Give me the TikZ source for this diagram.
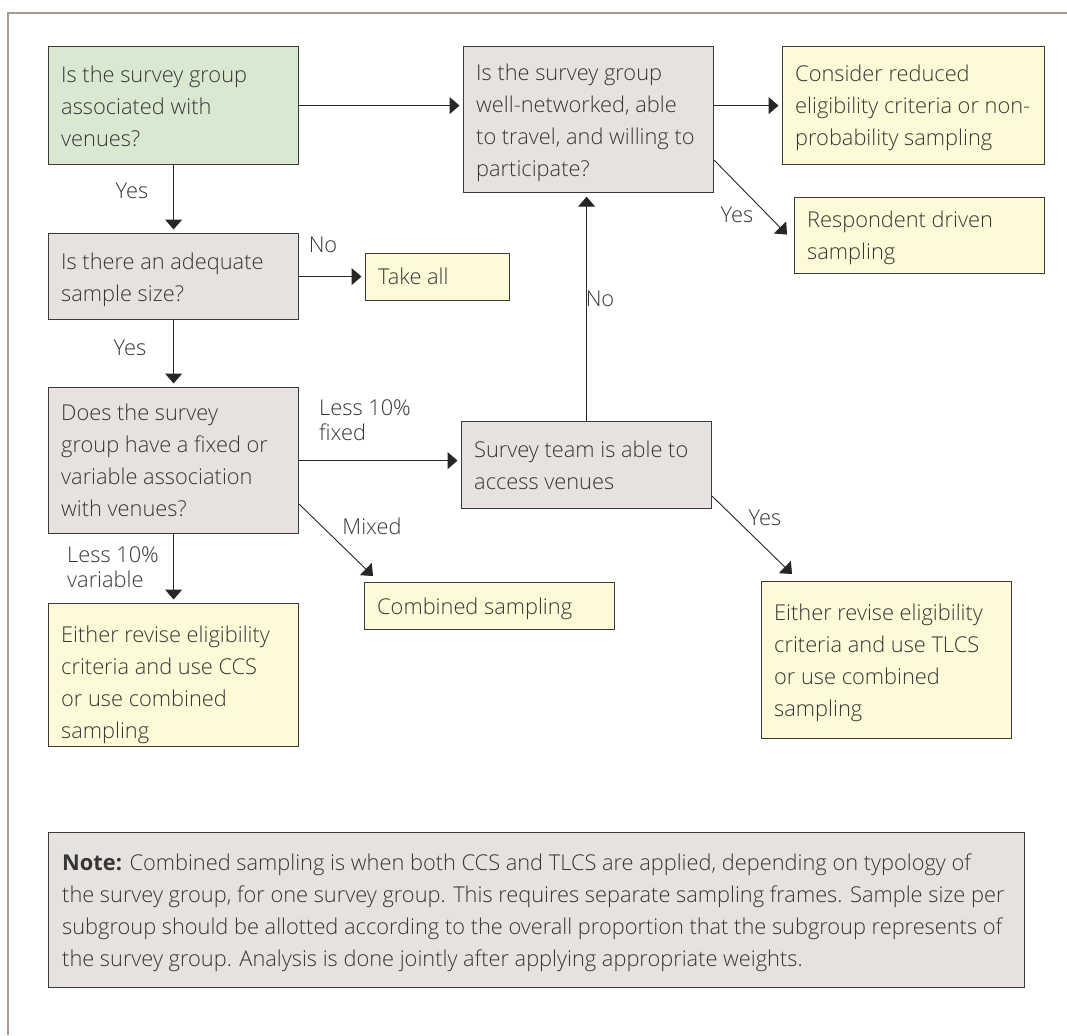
\documentclass[tikz,border=0pt]{standalone}
\usepackage{fontspec}
\setmainfont{Open Sans}[UprightFont={* Light},BoldFont={* Bold}]
\usetikzlibrary{arrows.meta,calc}
\definecolor{frameclr}{HTML}{A89B91}
\definecolor{edgeclr}{HTML}{3A3A3A}
\definecolor{arrclr}{HTML}{262626}
\definecolor{txtclr}{HTML}{363636}
\definecolor{startfill}{HTML}{D9E8D1}
\definecolor{askfill}{HTML}{E7E2DF}
\definecolor{resultfill}{HTML}{FEF9D6}
\begin{document}
\begin{tikzpicture}[x=1pt,y=-1pt,
  every node/.style={text=txtclr},
  qbox/.style={draw=edgeclr, line width=1.2pt, anchor=north west, inner sep=0pt},
  start/.style={qbox, fill=startfill},
  ask/.style={qbox, fill=askfill},
  result/.style={qbox, fill=resultfill},
  txt/.style={anchor=north west, inner sep=0pt, align=left, font=\fontsize{21.8}{32}\selectfont},
  lbl/.style={anchor=base, inner sep=0pt, font=\fontsize{21.8}{25}\selectfont},
  lbls/.style={anchor=north west, inner sep=0pt, align=left, font=\fontsize{21.8}{25}\selectfont},
  arr/.style={draw=arrclr, line width=1.2pt, -{Triangle[length=10pt,width=17pt]}, shorten >=3.5pt},
  darr/.style={arr, line width=0.9pt, shorten >=0pt}
]
\useasboundingbox (0,0) rectangle (1067,1035);

% open frame: top and left rules
\draw[frameclr, line width=1.5pt] (1067,13) -- (8,13) -- (8,1035);

% boxes
\node[start,  minimum width=250pt, minimum height=118pt] (qA) at (48,46) {};
\node[ask,    minimum width=250pt, minimum height=146pt] (qB) at (463,46) {};
\node[result, minimum width=262pt, minimum height=118pt] (qC) at (782,46) {};
\node[result, minimum width=250pt, minimum height=76pt]  (qD) at (794,197) {};
\node[ask,    minimum width=250pt, minimum height=86pt]  (qI) at (48,233) {};
\node[result, minimum width=144pt, minimum height=47pt]  (qJ) at (365,253) {};
\node[ask,    minimum width=250pt, minimum height=146pt] (qF) at (48,387) {};
\node[ask,    minimum width=250pt, minimum height=87pt]  (qE) at (461,421) {};
\node[result, minimum width=250pt, minimum height=47pt]  (qG) at (364,582) {};
\node[result, minimum width=250pt, minimum height=143pt] (qH) at (48,603) {};
\node[result, minimum width=250pt, minimum height=157pt] (qK) at (761,581) {};
\node[ask,    minimum width=976pt, minimum height=155pt] (qN) at (48,832) {};

% box texts
\node[txt] (tA) at (61,60.1) {\strut Is the survey group\\associated with\\venues?};
\node[txt] (tB) at (476,58.1) {\strut Is the survey group\\well-networked, able\\to travel, and willing to\\participate?};
\node[txt] (tC) at (795,59.1) {\strut Consider reduced\\eligibility criteria or non-\\probability sampling};
\node[txt] (tD) at (807,205.1) {\strut Respondent driven\\sampling};
\node[txt] (tI) at (61,247.1) {\strut Is there an adequate\\sample size?};
\node[txt] (tJ) at (378,262.1) {\strut Take all};
\node[txt] (tF) at (61,398.1) {\strut Does the survey\\group have a fixed or\\variable association\\with venues?};
\node[txt] (tE) at (474,435.1) {\strut Survey team is able to\\access venues};
\node[txt] (tG) at (377,592.1) {\strut Combined sampling};
\node[txt] (tH) at (61,620.1) {\strut Either revise eligibility\\criteria and use CCS\\or use combined\\sampling};
\node[txt] (tK) at (774,598.1) {\strut Either revise eligibility\\criteria and use TLCS\\or use combined\\sampling};
\node[txt] (tN) at (62,848.1) {\strut\textbf{Note:} Combined sampling is when both CCS and TLCS are applied, depending on typology of\\the survey group, for one survey group. This requires separate sampling frames. Sample size per\\subgroup should be allotted according to the overall proportion that the subgroup represents of\\the survey group. Analysis is done jointly after applying appropriate weights.};

% connectors
\draw[arr] (qA.east) -- (qA.east -| qB.west);
\draw[arr] (qB.east |- qC.west) -- (qC.west);
\draw[darr] ($(qB.south east)+(0,-33)$) -- ($(qD.west)+(-7,-1)$);
\draw[arr] (qE.north) -- (qE.north |- qB.south);
\draw[arr] (qA.south) -- (qI.north);
\draw[arr] (qI.south) -- (qF.north);
\draw[arr] (qI.east) -- (qI.east -| qJ.west);
\draw[arr] (qF.east) -- (qF.east -| qE.west);
\draw[darr] ($(qF.south east)+(0,-30)$) -- ($(qG.north west)+(9,-6)$);
\draw[arr] (qF.south) -- (qH.north);
\draw[darr] ($(qE.south east)+(0,-13)$) -- ($(qK.north west)+(31,-7)$);

% connector labels
\node[lbl] (lA) at (132,198.5) {Yes};
\node[lbl] (lI) at (130,355.5) {Yes};
\node[lbl] (lJ) at (323,252.5) {No};
\node[lbls] (lE) at (319,398) {\strut Less 10\%\\fixed};
\node[lbl] (lG) at (372,534.5) {Mixed};
\node[lbls] (lH) at (67,545) {\strut Less 10\%\\variable};
\node[lbl] (lB) at (600,306.5) {No};
\node[lbl] (lD) at (737,222.5) {Yes};
\node[lbl] (lK) at (765,525.5) {Yes};
\end{tikzpicture}
\end{document}
